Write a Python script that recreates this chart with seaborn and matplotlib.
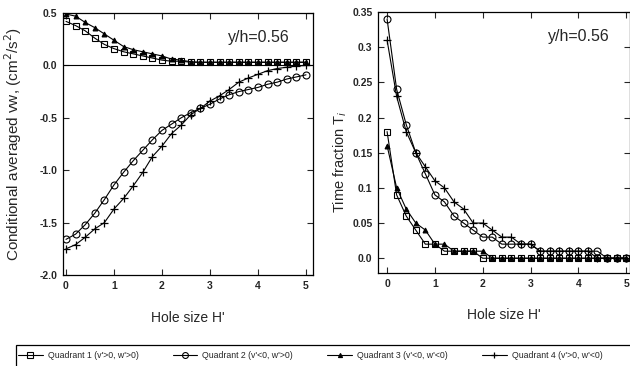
import numpy as np
import pandas as pd
import seaborn as sns
import matplotlib.pyplot as plt
from matplotlib.patches import Rectangle

# hole size H' (same grid for both panels)
hole = [0.0, 0.2, 0.4, 0.6, 0.8, 1.0, 1.2, 1.4, 1.6, 1.8, 2.0, 2.2, 2.4,
        2.6, 2.8, 3.0, 3.2, 3.4, 3.6, 3.8, 4.0, 4.2, 4.4, 4.6, 4.8, 5.0]

# conditional averaged vw (left panel)
vw_q1 = [0.42, 0.38, 0.33, 0.26, 0.20, 0.16, 0.13, 0.11, 0.09, 0.07, 0.05, 0.04, 0.04,
         0.03, 0.03, 0.03, 0.03, 0.03, 0.03, 0.03, 0.03, 0.03, 0.03, 0.03, 0.03, 0.03]
vw_q2 = [-1.66, -1.61, -1.52, -1.41, -1.28, -1.14, -1.02, -0.91, -0.81, -0.71, -0.62, -0.56, -0.50,
         -0.45, -0.41, -0.37, -0.32, -0.28, -0.25, -0.23, -0.21, -0.18, -0.16, -0.13, -0.11, -0.09]
vw_q3 = [0.49, 0.47, 0.41, 0.36, 0.30, 0.24, 0.18, 0.15, 0.13, 0.11, 0.09, 0.06, 0.05,
         0.035, 0.03, 0.03, 0.03, 0.03, 0.03, 0.03, 0.03, 0.03, 0.03, 0.03, 0.03, 0.03]
vw_q4 = [-1.75, -1.71, -1.64, -1.56, -1.50, -1.37, -1.27, -1.15, -1.02, -0.87, -0.77, -0.65, -0.57,
         -0.47, -0.41, -0.34, -0.29, -0.23, -0.16, -0.12, -0.085, -0.05, -0.03, -0.017, -0.007, 0.0]

# time fraction (right panel)
tf_q1 = [0.18, 0.09, 0.06, 0.04, 0.02, 0.02, 0.01, 0.01, 0.01, 0.01, 0.0, 0.0, 0.0,
         0.0, 0.0, 0.0, 0.0, 0.0, 0.0, 0.0, 0.0, 0.0, 0.0, 0.0, 0.0, 0.0]
tf_q2 = [0.34, 0.24, 0.19, 0.15, 0.12, 0.09, 0.08, 0.06, 0.05, 0.04, 0.03, 0.03, 0.02,
         0.02, 0.02, 0.02, 0.01, 0.01, 0.01, 0.01, 0.01, 0.01, 0.01, 0.0, 0.0, 0.0]
tf_q3 = [0.16, 0.10, 0.07, 0.05, 0.04, 0.02, 0.02, 0.01, 0.01, 0.01, 0.01, 0.0, 0.0,
         0.0, 0.0, 0.0, 0.0, 0.0, 0.0, 0.0, 0.0, 0.0, 0.0, 0.0, 0.0, 0.0]
tf_q4 = [0.31, 0.23, 0.18, 0.15, 0.13, 0.11, 0.10, 0.08, 0.07, 0.05, 0.05, 0.04, 0.03,
         0.03, 0.02, 0.02, 0.01, 0.01, 0.01, 0.01, 0.01, 0.01, 0.0, 0.0, 0.0, 0.0]

labels = ["Quadrant 1 (v'>0, w'>0)", "Quadrant 2 (v'<0, w'>0)",
          "Quadrant 3 (v'<0, w'<0)", "Quadrant 4 (v'>0, w'<0)"]
left_yticks = [0.5, 0.0, -0.5, -1.0, -1.5, -2.0]
left_yticklabels = ["0.5", "0.0", "-0.5", "-1.0", "-1.5", "-2.0"]
right_yticks = [0.0, 0.05, 0.1, 0.15, 0.2, 0.25, 0.3, 0.35]
right_yticklabels = ["0.0", "0.05", "0.1", "0.15", "0.2", "0.25", "0.3", "0.35"]
xticks = [0, 1, 2, 3, 4, 5]

sns.set_style("ticks")
plt.rcParams['font.family'] = ['Liberation Sans', 'DejaVu Sans']

# marker style for each quadrant
styles = [
    dict(marker="s", ms=4.5, mfc="none", mec="k", mew=0.8),
    dict(marker="o", ms=5, mfc="none", mec="k", mew=0.8),
    dict(marker="^", ms=3.5, mfc="k", mec="k", mew=0.8),
    dict(marker="+", ms=5.5, mfc="k", mec="k", mew=0.9),
]

fig = plt.figure(figsize=(6.3, 3.66), dpi=100)
ax1 = fig.add_axes([63/630, 1-275/366, 250/630, 262/366])
ax2 = fig.add_axes([378/630, 1-273/366, 252/630, 261/366])

for vals, st, lab in zip([vw_q1, vw_q2, vw_q3, vw_q4], styles, labels):
    sns.lineplot(x=hole, y=vals, ax=ax1, color="k", lw=0.8, label=lab, **st)
for vals, st in zip([tf_q1, tf_q2, tf_q3, tf_q4], styles):
    sns.lineplot(x=hole, y=vals, ax=ax2, color="k", lw=0.8, **st)

ax1.axhline(0, color="k", lw=0.8)
handles, labs = ax1.get_legend_handles_labels()
ax1.get_legend().remove()
if ax2.get_legend() is not None:
    ax2.get_legend().remove()

# left panel
ax1.set_xlim(-0.0625, 5.146)
ax1.set_ylim(-2.0, 0.5)
ax1.set_yticks(left_yticks)
ax1.set_yticklabels(left_yticklabels)
ax1.set_xticks(xticks)
ax1.set_xticklabels([str(t) for t in xticks])
ax1.set_xlabel("Hole size H'", fontsize=10)
ax1.xaxis.set_label_coords(0.5, -0.137)
ax1.set_ylabel("Conditional averaged vw, (cm$^2$/s$^2$)", fontsize=11)
ax1.yaxis.set_label_coords(-0.156, 0.5)
ax1.text(0.66, 0.908, "y/h=0.56", transform=ax1.transAxes, fontsize=11.5, va="center")

# right panel
ax2.set_xlim(-0.19, 5.08)
ax2.set_ylim(-0.021, 0.35)
ax2.set_yticks(right_yticks)
ax2.set_yticklabels(right_yticklabels)
ax2.set_xticks(xticks)
ax2.set_xticklabels([str(t) for t in xticks])
ax2.set_xlabel("Hole size H'", fontsize=10)
ax2.xaxis.set_label_coords(0.5, -0.134)
ax2.set_ylabel("Time fraction T$_i$", fontsize=10.5)
ax2.yaxis.set_label_coords(-0.115, 0.425)
ax2.text(0.675, 0.905, "y/h=0.56", transform=ax2.transAxes, fontsize=11.5, va="center")

for ax in (ax1, ax2):
    ax.tick_params(direction="in", top=True, right=True, length=4, width=0.8,
                   labelsize=7.5, pad=4)
    for lbl in ax.get_xticklabels() + ax.get_yticklabels():
        lbl.set_fontweight("bold")
    for sp in ax.spines.values():
        sp.set_linewidth(0.9)
        sp.set_color("k")

# legend row with a frame running off the right and bottom edges
fig.legend(handles, labs, loc="center left", ncol=4,
           bbox_to_anchor=(18/630, 1 - 356/366),
           fontsize=6.3, handlelength=2.8, handletextpad=0.6, columnspacing=3.9,
           borderaxespad=0, borderpad=0, frameon=False, markerscale=0.85)
fig.patches.append(Rectangle((16/630, -0.05), 1.0, 0.05 + 1 - 345/366,
                             transform=fig.transFigure, fill=False,
                             edgecolor="k", lw=0.9))

fig.savefig("out.png", dpi=100)
